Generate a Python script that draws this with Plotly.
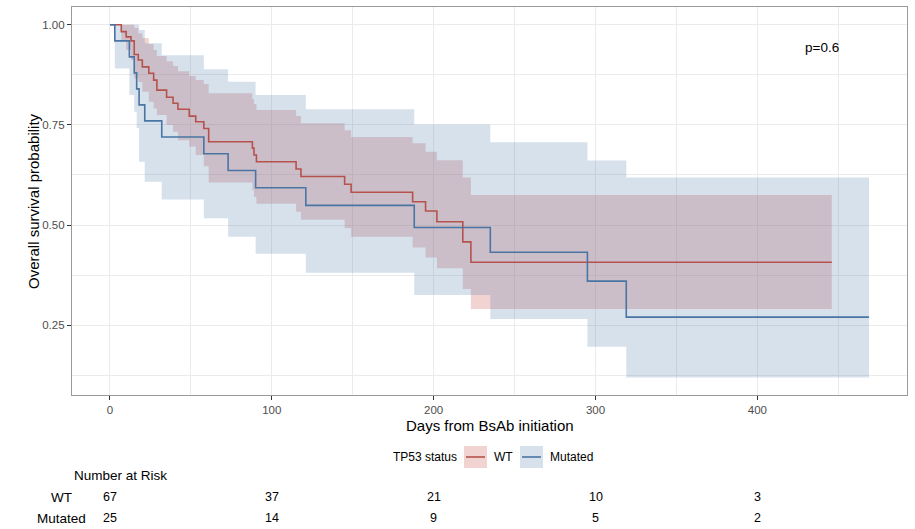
import plotly.graph_objects as go

# ---------------- data ----------------
# WT stratum
wt_time = [0, 7, 10, 13, 15, 17.5, 20, 24, 27, 29, 35, 39, 42, 49, 53, 58, 61,
           88, 89, 90.5, 115, 118, 145, 149, 187, 195, 202, 218, 223]
wt_surv = [1.0, 0.983, 0.970, 0.960, 0.926, 0.912, 0.895, 0.879, 0.862, 0.837,
           0.819, 0.804, 0.789, 0.772, 0.758, 0.741, 0.708, 0.692, 0.675, 0.658,
           0.640, 0.621, 0.602, 0.582, 0.558, 0.535, 0.508, 0.458, 0.407]
wt_upper = [1.0, 1.0, 1.0, 1.0, 0.992, 0.979, 0.967, 0.952, 0.937, 0.922,
            0.909, 0.897, 0.884, 0.872, 0.862, 0.852, 0.829, 0.814, 0.802, 0.787,
            0.772, 0.754, 0.737, 0.720, 0.704, 0.683, 0.662, 0.619, 0.575]
wt_lower = [1.0, 0.962, 0.937, 0.912, 0.866, 0.857, 0.833, 0.808, 0.791, 0.775,
            0.750, 0.733, 0.712, 0.696, 0.675, 0.647, 0.606, 0.587, 0.570, 0.553,
            0.533, 0.513, 0.492, 0.471, 0.444, 0.419, 0.392, 0.340, 0.290]
wt_end = 446

# Mutated stratum
mut_time = [0, 3, 12, 15, 16.5, 18, 21.5, 32, 58, 73, 90, 121, 188, 235, 295, 319]
mut_surv = [1.0, 0.96, 0.92, 0.88, 0.84, 0.80, 0.76, 0.72, 0.678, 0.636, 0.593,
            0.549, 0.494, 0.432, 0.360, 0.270]
mut_upper = [1.0, 1.0, 1.0, 1.0, 1.0, 0.987, 0.954, 0.924, 0.889, 0.858, 0.825,
             0.789, 0.751, 0.707, 0.661, 0.619]
mut_lower = [1.0, 0.891, 0.825, 0.783, 0.742, 0.658, 0.608, 0.564, 0.517, 0.471,
             0.428, 0.381, 0.325, 0.265, 0.196, 0.119]
mut_end = 469

# Number at risk table
risk_times = [0, 100, 200, 300, 400]
wt_risk = [67, 37, 21, 10, 3]
mut_risk = [25, 14, 9, 5, 2]

groups = ["WT", "Mutated"]
p_label = "p=0.6"

# ---------------- styling ----------------
RED = "#B5524C"
BLUE = "#4A74A3"
RED_FILL = "rgba(200,80,75,0.25)"
BLUE_FILL = "rgba(70,120,170,0.22)"
FONT = "Liberation Sans, Arial, sans-serif"

W, H = 915, 529
ML, MR, MT, MB = 72, 8, 7, 134
PW = W - ML - MR
PH = H - MT - MB


def px_x(px):
    return (px - ML) / PW


def px_y(py):
    return (H - MB - py) / PH


def ext(t, v, end):
    return list(t) + [end], list(v) + [v[-1]]


fig = go.Figure()

for t, s, lo, up, end, fill in [
    (wt_time, wt_surv, wt_lower, wt_upper, wt_end, RED_FILL),
    (mut_time, mut_surv, mut_lower, mut_upper, mut_end, BLUE_FILL),
]:
    x, ylo = ext(t, lo, end)
    _, yup = ext(t, up, end)
    fig.add_trace(go.Scatter(x=x, y=ylo, mode="lines", line=dict(width=0, shape="hv"),
                             showlegend=False, hoverinfo="skip"))
    fig.add_trace(go.Scatter(x=x, y=yup, mode="lines", line=dict(width=0, shape="hv"),
                             fill="tonexty", fillcolor=fill, showlegend=False,
                             hoverinfo="skip"))

for t, s, end, col, name in [
    (wt_time, wt_surv, wt_end, RED, groups[0]),
    (mut_time, mut_surv, mut_end, BLUE, groups[1]),
]:
    x, y = ext(t, s, end)
    fig.add_trace(go.Scatter(x=x, y=y, mode="lines", name=name,
                             line=dict(color=col, width=1.6, shape="hv"),
                             showlegend=False))

grid = "#EBEBEB"
fig.update_xaxes(range=[-23.45, 492.45], tickvals=[0, 100, 200, 300, 400],
                 showgrid=True, gridcolor=grid, gridwidth=1.1,
                 minor=dict(tickvals=[50, 150, 250, 350, 450], showgrid=True,
                            gridcolor=grid, gridwidth=0.6, ticks=""),
                 zeroline=False, showline=True, linecolor="#9A9A9A", linewidth=1.2,
                 mirror=True, ticks="outside", ticklen=4, tickcolor="#333333",
                 tickfont=dict(family=FONT, size=11.5, color="#4D4D4D"))
fig.update_yaxes(range=[0.0755, 1.0445], tickvals=[0.25, 0.5, 0.75, 1.0],
                 tickformat=".2f",
                 showgrid=True, gridcolor=grid, gridwidth=1.1,
                 minor=dict(tickvals=[0.125, 0.375, 0.625, 0.875], showgrid=True,
                            gridcolor=grid, gridwidth=0.6, ticks=""),
                 zeroline=False, showline=True, linecolor="#9A9A9A", linewidth=1.2,
                 mirror=True, ticks="outside", ticklen=4, tickcolor="#333333",
                 tickfont=dict(family=FONT, size=11.5, color="#4D4D4D"))


def txt(text, x, y, xref="paper", xanchor="center", size=12, angle=0):
    return dict(text=text, x=x, y=y, xref=xref, yref="paper", xanchor=xanchor,
                yanchor="middle", showarrow=False, textangle=angle,
                font=dict(family=FONT, size=size, color="black"))


ann = []
ann.append(txt("Days from BsAb initiation", 0.5, px_y(425), size=15))
ann.append(txt("Overall survival probability", px_x(33), px_y(201), size=15, angle=-90))
ann.append(dict(text=p_label, x=440, y=0.944, xref="x", yref="y", showarrow=False,
                xanchor="center", yanchor="middle",
                font=dict(family=FONT, size=13.5, color="black")))

# legend (drawn manually)
ly = 457
ann.append(txt("TP53 status", px_x(459), px_y(ly), xanchor="right", size=12))
ann.append(txt(groups[0], px_x(492), px_y(ly), xanchor="left", size=12))
ann.append(txt(groups[1], px_x(548), px_y(ly), xanchor="left", size=12))
shapes = []
for x0, fillc, lc in [(464, RED_FILL, RED), (520, BLUE_FILL, BLUE)]:
    shapes.append(dict(type="rect", xref="paper", yref="paper", x0=px_x(x0), x1=px_x(x0 + 23),
                       y0=px_y(ly - 11), y1=px_y(ly + 11), fillcolor=fillc, line=dict(width=0)))
    shapes.append(dict(type="line", xref="paper", yref="paper", x0=px_x(x0 + 2), x1=px_x(x0 + 21),
                       y0=px_y(ly), y1=px_y(ly), line=dict(color=lc, width=1.6)))

# number at risk table
ann.append(txt("Number at Risk", 0, px_y(476), xanchor="left", size=13.5))
for row_y, label, vals in [(497, groups[0], wt_risk), (518, groups[1], mut_risk)]:
    ann.append(txt(label, px_x(61), px_y(row_y), size=13.5))
    for t, v in zip(risk_times, vals):
        ann.append(txt(str(v), t, px_y(row_y), xref="x", size=12.5))

fig.update_layout(width=W, height=H, margin=dict(l=ML, r=MR, t=MT, b=MB),
                  plot_bgcolor="white", paper_bgcolor="white",
                  annotations=ann, shapes=shapes, showlegend=False)

fig.write_html("out.html")
